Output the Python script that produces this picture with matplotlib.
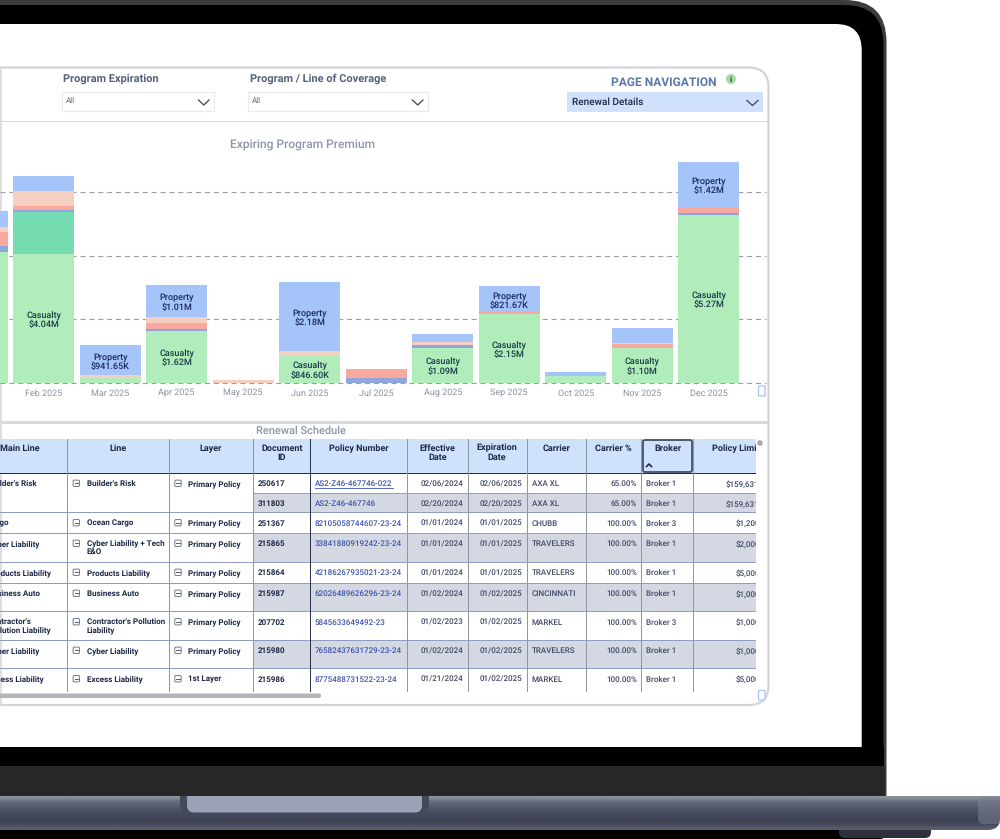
#!/usr/bin/env python3
"""Renewal dashboard shown on a laptop mockup."""

import matplotlib
matplotlib.use("Agg")
import matplotlib.pyplot as plt
import numpy as np
from matplotlib.colors import to_rgb
from matplotlib.patches import Circle, FancyBboxPatch, Rectangle

plt.rcParams["font.family"] = ["Roboto", "DejaVu Sans"]
plt.rcParams["text.hinting"] = "none"
plt.rcParams["text.hinting_factor"] = 1

# ─────────────────────────────────────────────
# Data
# ─────────────────────────────────────────────
MONTHS = ["Jan 2025", "Feb 2025", "Mar 2025", "Apr 2025", "May 2025", "Jun 2025",
          "Jul 2025", "Aug 2025", "Sep 2025", "Oct 2025", "Nov 2025", "Dec 2025"]

# premium by line, $M
CASUALTY = [4.12, 4.04, 0.15, 1.62, 0.00, 0.85, 0.00, 1.09, 2.15, 0.22, 1.10, 5.27]
MARINE = [0.00, 1.33, 0.00, 0.00, 0.00, 0.00, 0.00, 0.00, 0.00, 0.00, 0.00, 0.00]
CYBER = [0.18, 0.05, 0.00, 0.05, 0.00, 0.00, 0.13, 0.08, 0.00, 0.00, 0.00, 0.07]
LIABILITY = [0.45, 0.13, 0.00, 0.19, 0.00, 0.00, 0.29, 0.00, 0.06, 0.00, 0.10, 0.19]
AUTO = [0.16, 0.48, 0.08, 0.20, 0.08, 0.14, 0.00, 0.09, 0.00, 0.00, 0.04, 0.00]
PROPERTY = [0.50, 0.47, 0.94, 1.01, 0.00, 2.18, 0.00, 0.27, 0.82, 0.12, 0.48, 1.42]

CASUALTY_LABELS = ["", "$4.04M", "", "$1.62M", "", "$846.60K", "", "$1.09M", "$2.15M", "", "$1.10M", "$5.27M"]
PROPERTY_LABELS = ["", "", "$941.65K", "$1.01M", "", "$2.18M", "", "", "$821.67K", "", "", "$1.42M"]

HEADERS = ["Line", "Layer", "Document\nID", "Policy Number", "Effective\nDate",
           "Expiration\nDate", "Carrier", "Carrier %", "Broker"]

MAIN_LINES = ["Builder's Risk", "", "Cargo", "Cyber Liability", "Products Liability",
              "Business Auto", "Contractor's\nPollution Liability", "Cyber Liability", "Excess Liability"]
LINES = ["Builder's Risk", "", "Ocean Cargo", "Cyber Liability + Tech\nE&O", "Products Liability",
         "Business Auto", "Contractor's Pollution\nLiability", "Cyber Liability", "Excess Liability"]
LAYERS = ["Primary Policy", "", "Primary Policy", "Primary Policy", "Primary Policy",
          "Primary Policy", "Primary Policy", "Primary Policy", "1st Layer"]
DOC_IDS = ["250617", "311803", "251367", "215865", "215864", "215987", "207702", "215980", "215986"]
POLICY_NUMBERS = ["AS2-Z46-467746-022", "AS2-Z46-467746", "82105058744607-23-24",
                  "33841880919242-23-24", "42186267935021-23-24", "62026489626296-23-24",
                  "5845633649492-23", "76582437631729-23-24", "8775488731522-23-24"]
EFFECTIVE = ["02/06/2024", "02/20/2024", "01/01/2024", "01/01/2024", "01/01/2024",
             "01/02/2024", "01/02/2023", "01/02/2024", "01/21/2024"]
EXPIRATION = ["02/06/2025", "02/20/2025", "01/01/2025", "01/01/2025", "01/01/2025",
              "01/02/2025", "01/02/2025", "01/02/2025", "01/02/2025"]
CARRIERS = ["AXA XL", "AXA XL", "CHUBB", "TRAVELERS", "TRAVELERS", "CINCINNATI",
            "MARKEL", "TRAVELERS", "MARKEL"]
CARRIER_PCT = ["65.00%", "65.00%", "100.00%", "100.00%", "100.00%", "100.00%",
               "100.00%", "100.00%", "100.00%"]
BROKERS = ["Broker 1", "Broker 1", "Broker 3", "Broker 1", "Broker 1", "Broker 1",
           "Broker 3", "Broker 1", "Broker 1"]
LIMITS = ["$159,631", "$159,631", "$1,200", "$2,000", "$5,000", "$1,000", "$1,000", "$1,000", "$5,000"]

# ─────────────────────────────────────────────
# Layout (pixels of the 1000x839 canvas)
# ─────────────────────────────────────────────
W, H = 1000, 839
PX = 0.72  # points per pixel at dpi 100
COL_X = [67.3, 169.3, 253.3, 310, 407.3, 468, 527, 586.3, 641.7, 693.7]
ROW_Y = [473.3, 493.3, 512.7, 533.3, 562.3, 583.3, 611.7, 640.3, 668.7, 691.7]
TABLE_RIGHT = 756
NAVY = "#1d2846"
SLATE = "#424b66"
FONT_PX = 8.4

fig = plt.figure(figsize=(W / 100, H / 100), dpi=100, facecolor="white")
bg = fig.add_axes([0, 0, 1, 1])
bg.set_xlim(0, W)
bg.set_ylim(H, 0)
bg.axis("off")


def rbox(x0, y0, x1, y1, r, **kw):
    p = FancyBboxPatch((x0, y0), x1 - x0, y1 - y0, boxstyle=f"round,pad=0,rounding_size={r}", **kw)
    bg.add_patch(p)
    return p


def rect(x0, y0, x1, y1, **kw):
    kw.setdefault("linewidth", 0)
    p = Rectangle((x0, y0), x1 - x0, y1 - y0, **kw)
    bg.add_patch(p)
    return p


def label(x, y, s, px=FONT_PX, color=NAVY, weight="medium", ha="left", clip=False, ls=1.02):
    # one-line cells share a baseline whatever their letters are
    va = "center" if "\n" in s else "center_baseline"
    t = bg.text(x, y, s, fontsize=px * PX, color=color, fontweight=weight, ha=ha, va=va,
                linespacing=ls, zorder=4)
    if clip:
        t.set_clip_on(True)
        t.set_clip_path(Rectangle((0, 430), TABLE_RIGHT, 270, transform=bg.transData))
    return t


def chevron(x0, x1, y, color="#39415a"):
    xm = (x0 + x1) / 2
    bg.plot([x0, xm, x1], [y - 2.5, y + 2.5, y - 2.5], color=color, lw=0.9, zorder=4)


# ─────────────────────────────────────────────
# Laptop
# ─────────────────────────────────────────────
rbox(-80, 0, 886.5, 860, 42, facecolor="#3c3c3f", edgecolor="none")
rbox(-80, 5, 883.5, 860, 39, facecolor="black", edgecolor="none")
rbox(-80, 24, 861.7, 790, 26, facecolor="white", edgecolor="none")
rect(-10, 747, 884, 766, facecolor="black")
rect(-10, 766, 884.5, 797, facecolor="#282828")

# the base: flat on top, rounded only at the lower right
base = rbox(-60, 775, 1000, 830, 12, facecolor="none", edgecolor="none")
base_rows = ["#8b8f99", "#646a7a", "#5a6071", "#4f5465", "#474c5c", "#41465a", "#3d4150", "#454a59", "#585d6c"]
grad = np.array([[to_rgb(c)] for c in base_rows])
im = bg.imshow(grad, extent=(0, 1000, 830, 796), aspect="auto", interpolation="bilinear", zorder=1.5)
im.set_clip_path(base)
bg.set_xlim(0, W)
bg.set_ylim(H, 0)
rbox(978, 797, 1010, 824, 6, facecolor="#7a8092", edgecolor="none", alpha=0.55, zorder=1.6)
rbox(180, 770, 429, 813, 10, facecolor="#444957", edgecolor="none", zorder=1.8)
rbox(187, 770, 422, 812.5, 7, facecolor="#9aa2b5", edgecolor="none", zorder=1.9)
rect(170, 766, 440, 796, facecolor="#282828", zorder=2)
rbox(839, 822, 931, 838, 6, facecolor="#2d313d", edgecolor="none", zorder=1.2)

# ─────────────────────────────────────────────
# Report card and slicers
# ─────────────────────────────────────────────
rbox(-60, 67.5, 768.5, 705, 20, facecolor="white", edgecolor="#d3d4da", linewidth=1.6, zorder=2)
rect(0, 67, 2, 705, facecolor="#dedee2", zorder=2.1)
rect(0, 121.3, 769, 122.5, facecolor="#f6cdca", zorder=2.1)
rect(0, 421, 768, 423.5, facecolor="#d8d9de", zorder=2.1)

label(63, 78, "Program Expiration", px=10.6, color="#59607a", weight="bold")
label(249.5, 78, "Program / Line of Coverage", px=10.6, color="#59607a", weight="bold")
for x0, x1 in [(61.5, 214), (247.5, 428)]:
    rect(x0, 92, x1, 111, facecolor="white", edgecolor="#e8e9ee", linewidth=0.8, zorder=3)
    label(x0 + 4.5, 100, "All", px=8.4, color="#666d80", weight="normal")
    chevron(x1 - 15.5, x1 - 5, 102.5)
label(611, 81, "PAGE NAVIGATION", px=12.2, color="#5d78a8", weight="bold")
bg.add_patch(Circle((731, 79), 5, facecolor="#a6dca2", edgecolor="none", zorder=3))
label(731, 79, "i", px=8, color="#1f3d26", weight="bold", ha="center")
rect(567, 92, 763, 112, facecolor="#d0e2fb", zorder=3)
label(571.5, 101, "Renewal Details", px=9.6, color=NAVY)
chevron(747, 758, 103)

label(302.5, 144, "Expiring Program Premium", px=11.6, color="#8e95a6", ha="center")
label(301, 430, "Renewal Schedule", px=11.2, color="#8e95a6", ha="center")

# ─────────────────────────────────────────────
# Bars
# ─────────────────────────────────────────────
AX_RIGHT, AX_TOP, BASELINE = 766, 130, 382.5
PX_PER_M = 31.75
SPACING = 66.5
JAN_X = -22.8
LABEL_NUDGE = 1.5 / PX_PER_M  # text sits a little under the middle of its block

ax = fig.add_axes([0, (H - BASELINE) / H, AX_RIGHT / W, (BASELINE - AX_TOP) / H], facecolor="none")
ax.set_xlim(-JAN_X / SPACING, (AX_RIGHT - JAN_X) / SPACING)
ax.set_ylim(0, (BASELINE - AX_TOP) / PX_PER_M)
ax.set_zorder(2)

x = np.arange(len(MONTHS))
bottom = np.zeros(len(MONTHS))
stack = [(CASUALTY, "#b0edbb"), (MARINE, "#74dcb0"), (CYBER, "#8fa5dd"),
         (LIABILITY, "#f9a8a0"), (AUTO, "#f5cfc0"), (PROPERTY, "#a4c4fa")]
for values, color in stack:
    ax.bar(x, values, width=60.7 / SPACING, bottom=bottom, color=color, linewidth=0, zorder=3)
    if values is CASUALTY:
        mid_casualty = bottom + np.array(values) / 2
    if values is PROPERTY:
        mid_property = bottom + np.array(values) / 2
    bottom = bottom + np.array(values)

for i in x:
    if CASUALTY_LABELS[i]:
        ax.text(i, mid_casualty[i] - LABEL_NUDGE, "Casualty\n" + CASUALTY_LABELS[i], ha="center", va="center",
                fontsize=9.2 * PX, color="#1c3a4a", fontweight="medium", linespacing=1.08, zorder=4)
    if PROPERTY_LABELS[i]:
        ax.text(i, mid_property[i] - LABEL_NUDGE, "Property\n" + PROPERTY_LABELS[i], ha="center", va="center",
                fontsize=9.2 * PX, color="#1b2a5c", fontweight="medium", linespacing=1.08, zorder=4)

ax.set_yticks([0, 2, 4, 6])
ax.yaxis.grid(True, color="#9a9ea8", linestyle=(0, (4.5, 3.5)), linewidth=0.8)
ax.set_axisbelow(True)
for gl in ax.get_ygridlines():
    gl.set_clip_on(False)
ax.set_xticks(x[1:], MONTHS[1:])
ax.tick_params(axis="x", length=0, pad=4.5, labelsize=9 * PX, labelcolor="#8c93a3")
ax.tick_params(axis="y", length=0, labelleft=False)
for side in ax.spines.values():
    side.set_visible(False)

# ─────────────────────────────────────────────
# Table
# ─────────────────────────────────────────────
rect(0, 439, TABLE_RIGHT, ROW_Y[0], facecolor="#cfe2fb", zorder=2.2)
for r in range(9):
    if r % 2 == 1:
        rect(COL_X[2], ROW_Y[r], TABLE_RIGHT, ROW_Y[r + 1], facecolor="#d4d8e3", zorder=2.2)

for y in ROW_Y[1:-1]:
    x_from = COL_X[2] if y == ROW_Y[1] else 0
    rect(x_from, y - 0.5, TABLE_RIGHT, y + 0.5, facecolor="#8f9dc2", zorder=2.3)
rect(0, ROW_Y[0] - 0.6, TABLE_RIGHT, ROW_Y[0] + 0.4, facecolor="#1f2a44", zorder=2.4)
for cx in COL_X:
    dark = cx == 310
    thick = cx in (468, 527)
    rect(cx - 0.5, 439, cx + (1.0 if thick else 0.5), ROW_Y[-1],
         facecolor="#2b3550" if dark else "#8f96a8", zorder=2.4)

centers = [118, 211, 281.7, 358.7, 437.7, 497, 556.7, 613.7, 667.7]
for cx, head in zip(centers, HEADERS):
    lines = head.count("\n") + 1
    label(cx, 448 + 4.65 * (lines - 1), head, px=8.8, ha="center", weight="bold", ls=1.08)
label(0, 448, "Main Line", px=8.8, weight="bold")
label(712.3, 448, "Policy Limit", px=8.8, weight="bold", clip=True)

rbox(643, 440, 692, 472, 2, facecolor="#cfe2fb", edgecolor="#39425a", linewidth=1.2, zorder=2.5)
bg.plot([646.5, 649, 651.5], [466.5, 464, 466.5], color="#1d2846", lw=1.2, zorder=3)


def expander(cx, cy):
    rbox(cx - 3.2, cy - 3.2, cx + 3.2, cy + 3.2, 1.2, facecolor="none", edgecolor="#737a8c", linewidth=0.7, zorder=3)
    bg.plot([cx - 1.6, cx + 1.6], [cy, cy], color="#555d70", lw=0.7, zorder=3)


for r in range(9):
    cy = ROW_Y[r] + 10
    items = [
        (-12, MAIN_LINES[r], NAVY, "left", "semibold"),
        (86.7, LINES[r], NAVY, "left", "semibold"),
        (188.3, LAYERS[r], NAVY, "left", "semibold"),
        (257.7, DOC_IDS[r], NAVY, "left", "semibold"),
        (314.7, POLICY_NUMBERS[r], "#3f55ae", "left", "medium"),
        (463, EFFECTIVE[r], SLATE, "right", "medium"),
        (522, EXPIRATION[r], SLATE, "right", "medium"),
        (531.7, CARRIERS[r], SLATE, "left", "medium"),
        (636.7, CARRIER_PCT[r], SLATE, "right", "medium"),
        (646, BROKERS[r], SLATE, "left", "medium"),
    ]
    for tx, s, color, ha, weight in items:
        if not s:
            continue
        n = s.count("\n")
        label(tx, cy + 4.35 * n, s, color=color, ha=ha, ls=1.2, weight=weight)
    # limits are cut off by the right side of the table
    lx = 726 if LIMITS[r] == "$159,631" else 735.3
    label(lx, cy, LIMITS[r], color=SLATE, clip=True)
    if LINES[r]:
        expander(76.3, cy)
        expander(178, cy)

bg.plot([314.7, 393], [ROW_Y[0] + 14.5, ROW_Y[0] + 14.5], color="#3f55ae", lw=0.6, zorder=3)

# scrollbars and focus corners
rbox(-10, 693.5, 321, 698, 2, facecolor="#b4b5b8", edgecolor="none", zorder=3)
bg.add_patch(Circle((760, 443), 2.8, facecolor="#a8a9ae", edgecolor="none", zorder=3))
for y0, y1 in [(386, 396), (690.5, 700)]:
    rbox(758.5, y0, 765, y1, 0.8, facecolor="white", edgecolor="#a9c3f0", linewidth=0.9, zorder=3)

fig.savefig("out.png", dpi=100, facecolor="white")
